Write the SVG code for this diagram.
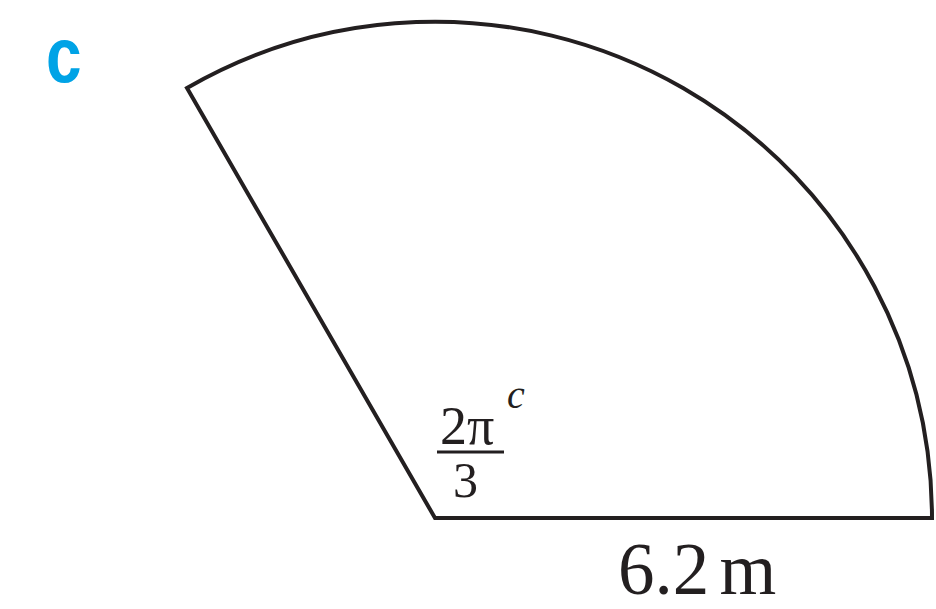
<svg xmlns="http://www.w3.org/2000/svg" width="936" height="609" viewBox="0 0 936 609">
<style>
.edge{fill:none;stroke:#231f20;stroke-width:4;stroke-linejoin:miter}
.math{fill:#231f20}
</style>
<rect width="936" height="609" fill="#ffffff"/>
<text transform="translate(46,82) scale(0.82,1)" font-family="Liberation Sans, Arial, sans-serif" font-weight="bold" font-size="78" fill="#00a3e6">c</text>
<g id="sector">
<path class="edge" d="M932,518 A497,497 0 0 0 187,88 L435,518 Z"/>
</g>
<g id="angle-label">
<text class="math" x="440" y="444" font-family="Liberation Serif, Times New Roman, serif" font-size="54">2π</text>
<line x1="437" y1="452" x2="504" y2="452" stroke="#231f20" stroke-width="3"/>
<text class="math" x="453" y="497" font-family="Liberation Serif, Times New Roman, serif" font-size="50">3</text>
<text class="math" x="507" y="408" font-family="Liberation Serif, Times New Roman, serif" font-size="40" font-style="italic">c</text>
</g>
<g id="radius-label">
<text class="math" x="618" y="594" font-family="Liberation Serif, Times New Roman, serif" font-size="73" word-spacing="-8">6.2 m</text>
</g>
</svg>
